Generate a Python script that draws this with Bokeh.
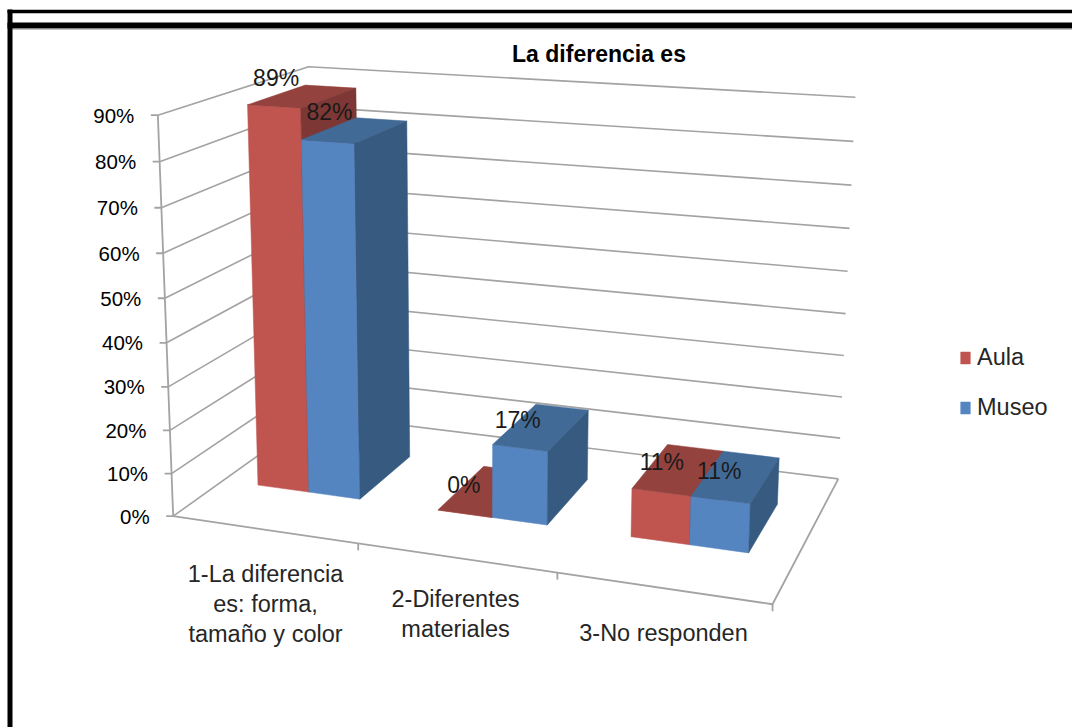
import numpy as np
from bokeh.core.properties import value
from bokeh.embed import file_html
from bokeh.models import Legend, LegendItem, Range1d
from bokeh.plotting import figure
from bokeh.resources import INLINE

# ---- data ----
title_text = "La diferencia es"
categories = ["1-La diferencia\nes: forma,\ntamaño y color", "2-Diferentes\nmateriales", "3-No responden"]
series_names = ["Aula", "Museo"]
aula = [89, 0, 11]
museo = [82, 17, 11]
y_ticks = [0, 10, 20, 30, 40, 50, 60, 70, 80, 90]

# ---- styles ----
FRONT = ["#C0554F", "#5585C0"]
TOP = ["#94423E", "#426A97"]
SIDE = ["#7D3734", "#375A80"]
GRID = "#A3A3A3"
FONT = "Liberation Sans"

# ---- calibration of the 3D view: (category pos, depth, value) -> page pixels ----
calib = [
    ((0, 0, 0), (173, 515)), ((1, 0, 0), (357, 543)), ((2, 0, 0), (557, 573)), ((3, 0, 0), (772, 604)),
    ((3, 1, 0), (838, 477)), ((0, 1, 0), (315, 415)),
    ((0, 0, 90), (157, 115)), ((0, 1, 90), (308, 66)), ((3, 1, 90), (855, 97)),
    ((0, 0, 50), (165, 297)), ((3, 1, 50), (847, 271)),
]
A = []
b = []
for (u, w, v), (sx, sy) in calib:
    A.append([u, w, v, 1, 0, 0, 0, 0, -sx * u, -sx * w, -sx * v]); b.append(sx)
    A.append([0, 0, 0, 0, u, w, v, 1, -sy * u, -sy * w, -sy * v]); b.append(sy)
m = np.linalg.lstsq(np.array(A, float), np.array(b, float), rcond=None)[0]


def proj(u, w, v):
    d = m[8] * u + m[9] * w + m[10] * v + 1
    return ((m[0] * u + m[1] * w + m[2] * v + m[3]) / d, (m[4] * u + m[5] * w + m[6] * v + m[7]) / d)


def xy(points):
    pts = [proj(*q) for q in points]
    return [q[0] for q in pts], [q[1] for q in pts]


p = figure(width=1072, height=727, output_backend="svg", toolbar_location=None,
           x_range=Range1d(0, 1072), y_range=Range1d(727, 0), min_border=0)
p.axis.visible = False
p.grid.visible = False
p.outline_line_color = None
p.background_fill_color = "white"
p.border_fill_color = "white"

# page frame
p.line([7, 1072], [11, 11], line_color="black", line_width=3.5)
p.line([7, 1072], [25, 25], line_color="black", line_width=6)
p.line([12, 1072], [28.5, 28.5], line_color="#888888", line_width=1)
p.line([9.5, 9.5], [9, 727], line_color="black", line_width=5)

# walls and gridlines
for t in y_ticks:
    xs, ys = xy([(0, 0, t), (0, 1, t), (3, 1, t)])
    p.line(xs, ys, line_color=GRID, line_width=1.6)
    sx, sy = proj(0, 0, t)
    p.line([sx - 7, sx], [sy, sy], line_color=GRID, line_width=1.8)
    p.text([sx - 23.5], [sy], text=[f"{t}%"], text_font=value(FONT), text_font_size="20.5px",
           text_color="#000000", text_align="right", text_baseline="middle")
xs, ys = xy([(0, 0, 0), (0, 0, 90)])
p.line(xs, ys, line_color=GRID, line_width=1.8)
xs, ys = xy([(0, 0, 0), (3, 0, 0), (3, 1, 0)])
p.line(xs, ys, line_color=GRID, line_width=1.8)
for i in range(1, 4):
    sx, sy = proj(i, 0, 0)
    p.line([sx, sx], [sy, sy + 7], line_color=GRID, line_width=1.8)

# bars
U0, UM, U1 = 0.20, 0.49, 0.775
W0, W1 = 0.32, 0.72
legend_rs = [None, None]
anchors = []
for c in range(len(categories)):
    for s, vals in enumerate((aula, museo)):
        h = vals[c]
        a = c + (U0 if s == 0 else UM)
        e = c + (UM if s == 0 else U1)
        faces = [
            ([(a, W0, 0), (e, W0, 0), (e, W0, h), (a, W0, h)], FRONT[s]),
            ([(a, W0, h), (e, W0, h), (e, W1, h), (a, W1, h)], TOP[s]),
            ([(e, W0, 0), (e, W1, 0), (e, W1, h), (e, W0, h)], SIDE[s]),
        ]
        for k, (pts, col) in enumerate(faces):
            fx, fy = xy(pts)
            r = p.patches([fx], [fy], fill_color=col, line_color=col, line_width=0.5)
            if k == 0 and legend_rs[s] is None:
                legend_rs[s] = r
        anchors.append(proj((a + e) / 2, (W0 + W1) / 2, h))

# data labels, offset from the middle of each bar's top
label_values = [aula[0], museo[0], aula[1], museo[1], aula[2], museo[2]]
label_order = [0, 1, 2, 3, 4, 5]
label_dx = [-27, -26, -24, -24, -17, -17]
label_dy = [-18, -18, -6, -7, -7, -6]
for n, o, dx, dy in zip(label_values, label_order, label_dx, label_dy):
    ax, ay = anchors[o]
    p.text([ax + dx], [ay + dy], text=[f"{n}%"], text_font=value(FONT), text_font_size="23px",
           text_color="#1A1A1A", text_align="center", text_baseline="middle")

# category labels
cat_x = [265, 455, 663]
cat_y = [573, 598, 632]
for name, cx, cy in zip(categories, cat_x, cat_y):
    for j, line in enumerate(name.split("\n")):
        p.text([cx], [cy + 30 * j], text=[line], text_font=value(FONT), text_font_size="23.5px",
               text_color="#262626", text_align="center", text_baseline="middle")

# title
p.text([598.5], [53], text=[title_text], text_font=value(FONT), text_font_size="23px", text_font_style="bold",
       text_color="black", text_align="center", text_baseline="middle")

# legend
legend = Legend(items=[LegendItem(label=series_names[i], renderers=[legend_rs[i]]) for i in range(2)],
                location=(959, 306), orientation="vertical", border_line_color=None,
                background_fill_alpha=0, padding=0, margin=0, spacing=23, glyph_width=12, glyph_height=15,
                label_standoff=6, label_text_font=FONT, label_text_font_size="23.5px", label_text_color="#262626")
p.add_layout(legend, "center")

open("out.html", "w").write(file_html(p, INLINE))
